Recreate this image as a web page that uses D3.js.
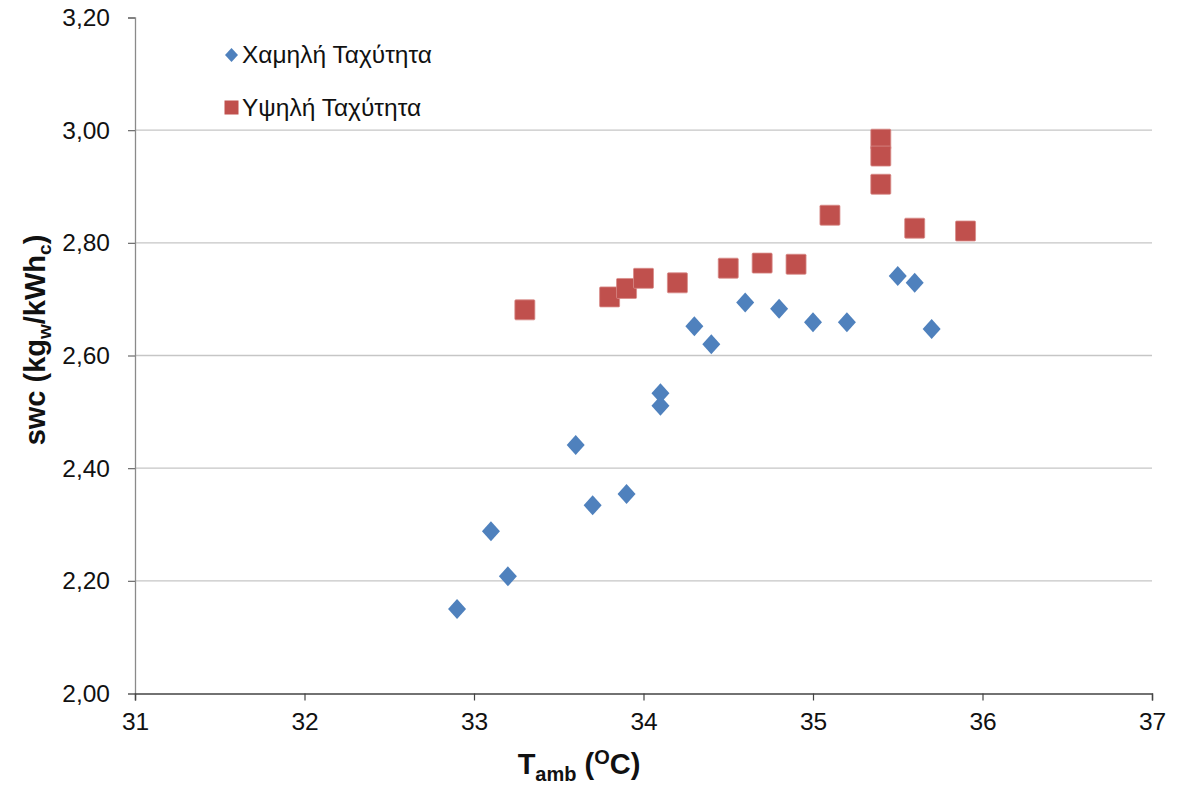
<!DOCTYPE html>
<html>
<head>
<meta charset="utf-8">
<script src="https://cdn.jsdelivr.net/npm/d3@7"></script>
<style>
  html, body { margin: 0; padding: 0; background: #ffffff; }
  svg { display: block; font-family: "Liberation Sans", Arial, Helvetica, sans-serif; }
</style>
</head>
<body>
<svg id="chart" width="1177" height="789"></svg>
<script>
// Ambient temperature (°C) and specific water capacity for each fan speed
const lowTemp  = [32.9, 33.1, 33.2, 33.6, 33.7, 33.9, 34.1, 34.1, 34.3, 34.4, 34.6, 34.8, 35.0, 35.2, 35.5, 35.6, 35.7];
const lowSwc   = [2.150, 2.288, 2.208, 2.441, 2.334, 2.354, 2.533, 2.511, 2.652, 2.620, 2.694, 2.683, 2.659, 2.659, 2.741, 2.729, 2.647];

const highTemp = [33.3, 33.8, 33.9, 34.0, 34.2, 34.5, 34.7, 34.9, 35.1, 35.4, 35.4, 35.4, 35.6, 35.9];
const highSwc  = [2.681, 2.704, 2.719, 2.737, 2.729, 2.755, 2.764, 2.762, 2.849, 2.984, 2.954, 2.904, 2.826, 2.821];

const seriesNames = ["Χαμηλή Ταχύτητα", "Υψηλή Ταχύτητα"];
const xTicks = [31, 32, 33, 34, 35, 36, 37];
const yTicks = [2.0, 2.2, 2.4, 2.6, 2.8, 3.0, 3.2];

const BLUE = "#4F81BD";
const RED = "#C0504D";

const svg = d3.select("#chart");
const plotLeft = 135, plotRight = 1152, plotTop = 17.5, plotBottom = 693.5;

const x = d3.scaleLinear().domain([31, 37]).range([plotLeft, plotRight]);
const y = d3.scaleLinear().domain([2.0, 3.2]).range([plotBottom, plotTop]);

const greekLocale = d3.formatLocale({ decimal: ",", thousands: ".", grouping: [3], currency: ["", "€"] });
const fmtY = greekLocale.format(".2f");

// Horizontal gridlines
svg.append("g")
  .selectAll("line")
  .data(yTicks.filter(v => v > 2.0 && v < 3.2))
  .join("line")
  .attr("x1", plotLeft).attr("x2", plotRight)
  .attr("y1", d => y(d)).attr("y2", d => y(d))
  .attr("stroke", "#c6c6c6").attr("stroke-width", 1.3);

// Y axis
const yAxis = svg.append("g")
  .attr("transform", `translate(${plotLeft},0)`)
  .call(d3.axisLeft(y).tickValues(yTicks).tickFormat(fmtY).tickSize(7).tickPadding(18));
yAxis.select(".domain").attr("stroke", "#8a8a8a").attr("stroke-width", 1.3);
yAxis.selectAll(".tick line").attr("stroke", "#6a6a6a").attr("stroke-width", 1.2);
yAxis.selectAll(".tick text")
  .attr("font-size", 24.5).attr("fill", "#111")
  .attr("font-family", "Liberation Sans, Arial, sans-serif");

// X axis
const xAxis = svg.append("g")
  .attr("transform", `translate(0,${plotBottom})`)
  .call(d3.axisBottom(x).tickValues(xTicks).tickFormat(d3.format("d")).tickSize(7).tickPadding(12));
xAxis.select(".domain").attr("stroke", "#444").attr("stroke-width", 1.4);
xAxis.selectAll(".tick line").attr("stroke", "#444").attr("stroke-width", 1.2);
xAxis.selectAll(".tick text")
  .attr("font-size", 24.5).attr("fill", "#111")
  .attr("font-family", "Liberation Sans, Arial, sans-serif");

// Marker shapes
const diamond = (w, h) => `M0,${-h / 2}L${w / 2},0L0,${h / 2}L${-w / 2},0Z`;

// High-speed series (squares)
const highData = highTemp.map((t, i) => ({ t, v: highSwc[i] }));
svg.append("g")
  .selectAll("rect")
  .data(highData)
  .join("rect")
  .attr("x", d => x(d.t) - 10)
  .attr("y", d => y(d.v) - 10)
  .attr("width", 20).attr("height", 20)
  .attr("rx", 1)
  .attr("fill", RED)
  .attr("stroke", "#d88b89").attr("stroke-width", 0.8);

// Low-speed series (diamonds)
const lowData = lowTemp.map((t, i) => ({ t, v: lowSwc[i] }));
svg.append("g")
  .selectAll("path")
  .data(lowData)
  .join("path")
  .attr("d", diamond(18, 20))
  .attr("transform", d => `translate(${x(d.t)},${y(d.v)})`)
  .attr("fill", BLUE);

// Legend
const legend = svg.append("g");
legend.append("path")
  .attr("d", diamond(13, 14))
  .attr("transform", "translate(231.5,55)")
  .attr("fill", BLUE);
legend.append("text")
  .attr("x", 242).attr("y", 63)
  .attr("font-size", 24.5).attr("fill", "#111")
  .text(seriesNames[0]);
legend.append("rect")
  .attr("x", 224.5).attr("y", 100.5)
  .attr("width", 14).attr("height", 14)
  .attr("fill", RED);
legend.append("text")
  .attr("x", 242).attr("y", 116)
  .attr("font-size", 24.5).attr("fill", "#111")
  .text(seriesNames[1]);

// Axis titles
const xTitle = svg.append("text")
  .attr("x", 579).attr("y", 774)
  .attr("text-anchor", "middle")
  .attr("font-size", 29).attr("font-weight", "bold").attr("fill", "#111");
xTitle.append("tspan").text("T");
xTitle.append("tspan").attr("font-size", 20).attr("dy", 7).text("amb");
xTitle.append("tspan").attr("dy", -7).text(" (");
xTitle.append("tspan").attr("font-size", 20).attr("dy", -10).text("O");
xTitle.append("tspan").attr("dy", 10).text("C)");

const yTitle = svg.append("text")
  .attr("transform", "translate(45,340) rotate(-90)")
  .attr("text-anchor", "middle")
  .attr("font-size", 29).attr("font-weight", "bold").attr("fill", "#111");
yTitle.append("tspan").text("swc (kg");
yTitle.append("tspan").attr("font-size", 19).attr("dy", 6).text("w");
yTitle.append("tspan").attr("dy", -6).text("/kWh");
yTitle.append("tspan").attr("font-size", 19).attr("dy", 6).text("c");
yTitle.append("tspan").attr("dy", -6).text(")");
</script>
</body>
</html>
